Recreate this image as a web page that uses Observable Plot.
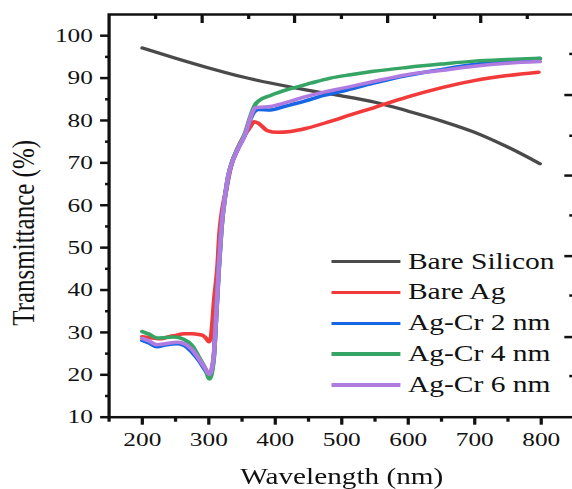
<!DOCTYPE html>
<html><head><meta charset="utf-8">
<script src="https://cdn.jsdelivr.net/npm/d3@7"></script>
<script src="https://cdn.jsdelivr.net/npm/@observablehq/plot@0.6"></script>
<style>
html,body{margin:0;padding:0;background:#fff;overflow:hidden;width:572px;height:489px}
#wrap{position:absolute;left:0;top:0;width:442px;height:489px;transform:scaleX(1.3);transform-origin:0 0}
#wrap svg{display:block;position:absolute;left:0;top:0}
.sw{position:absolute;height:3.3px}
.lb{position:absolute;font-family:"Liberation Serif",serif;color:#111;font-size:22.7px;line-height:1;white-space:nowrap}
</style></head><body><div id="wrap"></div>
<script>
// ---- data ----
const seriesNames = ["Bare Silicon", "Bare Ag", "Ag-Cr 2 nm", "Ag-Cr 4 nm", "Ag-Cr 6 nm"];
const seriesColors = ["#4a4a4a", "#f23a3a", "#1766e3", "#35a464", "#b07be0"];

const siliconWl = [200,250,300,350,400,450,500,550,600,650,700,750,798];
const siliconT  = [97.1,94.7,92.4,90.3,88.6,87.1,85.8,84.3,82.2,79.9,77.2,73.7,69.8];

const agWl = [200,215,228,240,250,263,275,285,292,296,300,303,305,308,313,316,320,326,333,343,355,362,368,375,388,403,423,448,483,513,548,598,649,699,749,796];
const agT  = [29.0,28.7,28.5,29.0,29.3,29.7,29.7,29.5,29.2,28.6,27.8,28.6,31.5,37.5,45.4,53.3,58.7,63.5,69.0,73.3,76.8,78.4,79.7,79.3,77.6,77.2,77.4,78.2,79.8,81.3,83.0,85.5,87.7,89.4,90.6,91.4];

const cr2Wl = [200,210,222,237,252,262,275,285,295,301,304,308,311,315,319,325,330,335,345,355,363,370,375,393,413,443,473,498,513,548,598,649,699,749,798];
const cr2T  = [28.1,27.5,26.6,27.1,27.3,27.0,25.3,23.4,21.0,19.8,20.8,25.0,33.5,45.0,54.5,62.7,67.4,70.1,73.7,76.8,80.5,82.3,82.6,82.5,83.3,84.5,85.9,86.8,87.4,88.8,90.6,92.0,93.2,94.0,94.6];

const cr4Wl = [200,210,222,235,248,262,275,285,295,301,304,308,311,315,319,325,330,335,345,355,363,370,375,393,423,453,483,513,548,598,649,699,749,798];
const cr4T  = [30.2,29.6,28.7,28.8,28.9,28.4,26.9,24.2,21.4,19.0,20.0,25.0,33.5,45.0,54.5,62.7,67.4,70.2,73.9,77.2,81.2,83.8,84.6,85.9,87.5,88.8,90.0,90.8,91.6,92.5,93.3,94.0,94.4,94.7];

const cr6Wl = [200,210,222,237,252,262,275,285,295,301,304,308,311,315,319,325,330,335,345,355,363,370,375,393,413,443,473,498,513,548,598,649,699,749,798];
const cr6T  = [28.6,28.0,27.1,27.4,27.7,27.4,25.9,23.8,21.4,20.1,21.2,25.5,33.6,45.4,54.8,62.7,67.4,70.1,73.7,76.8,80.8,83.0,83.1,83.3,84.1,85.5,86.7,87.5,88.0,89.2,90.8,91.8,92.8,93.5,93.9];

const xMajor = [200,300,400,500,600,700,800];
const xMinor = [150,250,350,450,550,650,750,850];
const yMajor = [10,20,30,40,50,60,70,80,90,100];
const yMinor = [15,25,35,45,55,65,75,85,95];
const topMajor = [290,429,569,709];
const topMinor = [220,360,499.5,639.5,779];
const rightMajor = [86.0,67.0,48.0,28.9];
const rightMinor = [95.7,76.4,57.6,38.7,19.7];
const xLabel = "Wavelength (nm)";
const yLabel = "Transmittance (%)";

// ---- build ----
const seriesData = [
  [siliconWl, siliconT],
  [agWl, agT],
  [cr2Wl, cr2T],
  [cr4Wl, cr4T],
  [cr6Wl, cr6T]
].map(([wl, t], i) => wl.map((w, j) => ({series: seriesNames[i], wavelength: w, T: t[j]})));

const lineMarks = seriesData.map((rows, i) =>
  Plot.line(rows, {x: "wavelength", y: "T", stroke: seriesColors[i], strokeWidth: i === 0 ? 3.2 : 3.5, curve: "monotone-x"})
);

const chart = Plot.plot({
  width: 442, height: 489,
  marginLeft: 83.4, marginRight: 0.6, marginTop: 14, marginBottom: 72.3,
  x: {domain: [150, 850]},
  y: {domain: [10, 105]},
  style: {fontFamily: '"Liberation Serif", serif', color: "#111", background: "#fff", overflow: "visible"},
  marks: [
    ...lineMarks,
    Plot.frame({stroke: "#111", strokeWidth: 2.5}),
    Plot.axisX(xMajor, {anchor: "bottom", tickSize: 8, tickPadding: 7, fontSize: 19.5, strokeWidth: 2.5, label: null}),
    Plot.axisX(xMinor, {anchor: "bottom", tickSize: 5, fill: "none", strokeWidth: 2.5, label: null}),
    Plot.axisY(yMajor, {anchor: "left", tickSize: 6.4, tickPadding: 6, fontSize: 19.5, strokeWidth: 2.5, label: null}),
    Plot.axisY(yMinor, {anchor: "left", tickSize: 2.6, fill: "none", strokeWidth: 2.5, label: null}),
    Plot.axisX(topMajor, {anchor: "top", tickSize: -8, fill: "none", strokeWidth: 2.5, label: null}),
    Plot.axisX(topMinor, {anchor: "top", tickSize: -4, fill: "none", strokeWidth: 2.5, label: null}),
    Plot.axisY(rightMajor, {anchor: "right", tickSize: -8.3, fill: "none", strokeWidth: 2.5, label: null}),
    Plot.axisY(rightMinor, {anchor: "right", tickSize: -4.5, fill: "none", strokeWidth: 2.5, label: null}),
    Plot.text([xLabel], {text: d => d, frameAnchor: "bottom", textAnchor: "middle", lineAnchor: "top", dy: 50.8, fontSize: 22.5, fill: "#111"}),
    Plot.text([yLabel], {text: d => d, frameAnchor: "left", textAnchor: "middle", rotate: -90, lineAnchor: "middle", dx: -65.4, dy: 17, fontSize: 25, fill: "#111"})
  ]
});

const wrap = document.getElementById("wrap");
wrap.appendChild(chart);

// legend (HTML, inside the scaled wrapper)
const legendTop = 261.7, legendStep = 30.8;
seriesNames.forEach((name, i) => {
  const cy = legendTop + i * legendStep;
  const sw = document.createElement("div");
  sw.className = "sw";
  sw.style.left = "255.2px";
  sw.style.width = "52.5px";
  sw.style.top = (cy - 1.65) + "px";
  sw.style.background = seriesColors[i];
  wrap.appendChild(sw);
  const lb = document.createElement("div");
  lb.className = "lb";
  lb.style.left = "313.8px";
  lb.style.top = (cy + 7.8 - 19.0) + "px";
  lb.textContent = name;
  wrap.appendChild(lb);
});
</script></body></html>
